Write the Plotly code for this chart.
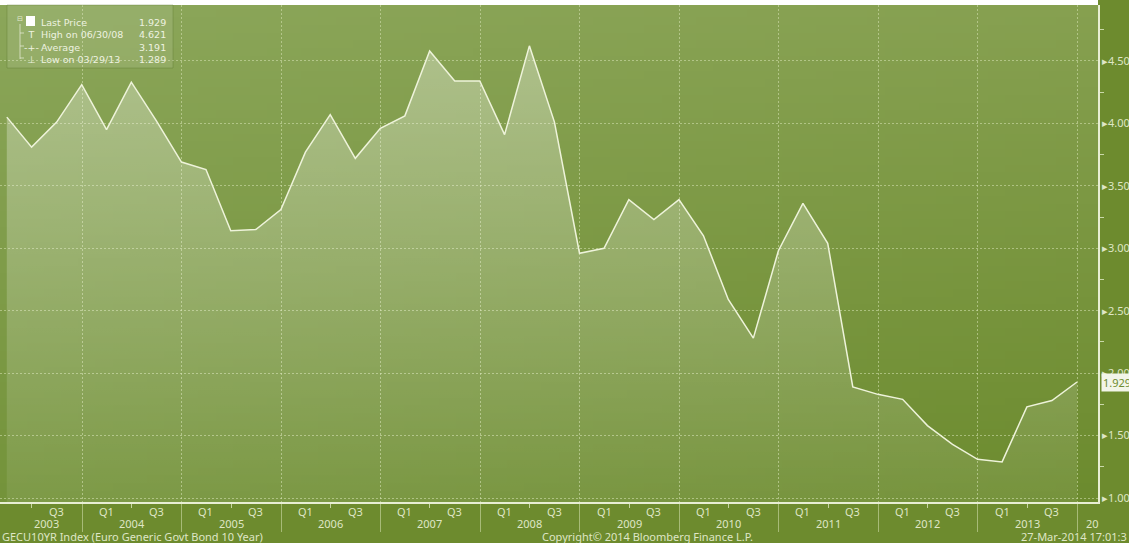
import base64
import struct
import zlib

import plotly.graph_objects as go

# ---------------- data ----------------
quarter_ends = [f"{y}-{md}" for y in range(2003, 2014)
                for md in ("03-31", "06-30", "09-30", "12-31")]
yields = [
    4.05, 3.81, 4.01, 4.31,   # 2003
    3.95, 4.33, 4.02, 3.69,   # 2004
    3.63, 3.14, 3.15, 3.31,   # 2005
    3.77, 4.07, 3.72, 3.96,   # 2006
    4.06, 4.58, 4.34, 4.34,   # 2007
    3.91, 4.621, 4.01, 2.96,  # 2008
    3.00, 3.39, 3.23, 3.39,   # 2009
    3.10, 2.59, 2.28, 2.98,   # 2010
    3.36, 3.04, 1.89, 1.83,   # 2011
    1.79, 1.58, 1.43, 1.31,   # 2012
    1.289, 1.73, 1.78, 1.929,  # 2013
]
y_ticks = [1.0, 1.5, 2.0, 2.5, 3.0, 3.5, 4.0, 4.5]
y_minor = [1.25, 1.75, 2.25, 2.75, 3.25, 3.75, 4.25, 4.75]
label_years = list(range(2003, 2014))
legend_labels = ["Last Price", "High on 06/30/08", "Average", "Low on 03/29/13"]
legend_values = ["1.929", "4.621", "3.191", "1.289"]
legend_symbols = ["\u00a0", "T", "-+-", "⊥"]
last_price = 1.929
footer_left = "GECU10YR Index (Euro Generic Govt Bond 10 Year)"
footer_mid = "Copyright© 2014 Bloomberg Finance L.P."
footer_right = "27-Mar-2014 17:01:3"

# ---------------- style ----------------
FONT = "Noto Sans"
FS = 11
BAND = "#6d8b2e"
TXT = "#dfe6c6"
GRID = "rgba(215,228,180,0.55)"
AXLINE = "#e8eed4"
X_START, X_END = "2003-03-06", "2014-03-18"
Y_RANGE = [0.968, 4.948]
W, H = 1129, 543
ML, MR, MT, MB = 0, 31, 5, 41
PH = H - MT - MB
PW = W - ML - MR


def gradient_png(w, h):
    tl, tr = (0x8b, 0xa6, 0x5a), (0x86, 0xa0, 0x50)
    bl, br = (0x74, 0x93, 0x3a), (0x6c, 0x8b, 0x2e)
    rows = []
    for j in range(h):
        v = j / (h - 1)
        row = bytearray([0])
        for i in range(w):
            u = i / (w - 1)
            px = []
            for k in range(3):
                top = tl[k] * (1 - u) + tr[k] * u
                bot = bl[k] * (1 - u) + br[k] * u
                px.append(int(round(top * (1 - v) + bot * v)))
            row += bytes(px)
        rows.append(bytes(row))
    raw = b"".join(rows)

    def chunk(t, d):
        c = struct.pack(">I", len(d)) + t + d
        return c + struct.pack(">I", zlib.crc32(t + d) & 0xFFFFFFFF)

    png = (b"\x89PNG\r\n\x1a\n"
           + chunk(b"IHDR", struct.pack(">IIBBBBB", w, h, 8, 2, 0, 0, 0))
           + chunk(b"IDAT", zlib.compress(raw))
           + chunk(b"IEND", b""))
    return "data:image/png;base64," + base64.b64encode(png).decode()


fig = go.Figure()
fig.add_trace(go.Scatter(
    x=quarter_ends, y=yields, mode="lines",
    line=dict(color="#eef3da", width=1.5),
    fill="tozeroy",
    fillgradient=dict(type="vertical",
                      colorscale=[[0, "rgba(255,255,255,0.07)"],
                                  [1, "rgba(255,255,255,0.33)"]],
                      start=1.0, stop=4.7),
    hoverinfo="skip", showlegend=False,
))

ann = []


def px_y(ypx):
    # pixel row of page -> paper y
    return (H - MB - ypx) / PH


def px_x(xpx):
    return (xpx - ML) / PW


# x-axis quarter labels
for y in label_years:
    for md, q in (("03-31", "Q1"), ("09-30", "Q3")):
        d = f"{y}-{md}"
        if d < "2003-04-15":
            continue
        ann.append(dict(x=d, xref="x", y=px_y(511), yref="paper", text=q,
                        showarrow=False, xanchor="center", yanchor="middle",
                        font=dict(family=FONT, size=FS, color=TXT)))
# year labels
for y in label_years:
    d = f"{y}-07-01" if y > 2003 else "2003-08-25"
    ann.append(dict(x=d, xref="x", y=px_y(523), yref="paper", text=str(y),
                    showarrow=False, xanchor="center", yanchor="middle",
                    font=dict(family=FONT, size=FS, color=TXT)))
ann.append(dict(x=px_x(1084), xref="paper", y=px_y(523), yref="paper", text="20",
                showarrow=False, xanchor="left", yanchor="middle",
                font=dict(family=FONT, size=FS, color=TXT)))
# footer
for txt, xp, anc in ((footer_left, 0, "left"),
                     (footer_mid, 647, "center"),
                     (footer_right, W, "right")):
    ann.append(dict(x=px_x(xp), xref="paper", y=px_y(536), yref="paper", text=txt,
                    showarrow=False, xanchor=anc, yanchor="middle",
                    font=dict(family=FONT, size=FS, color=TXT)))
# last price tag
ann.append(dict(x=1.0, xref="paper", xshift=3, y=last_price, yref="y",
                text=f"{last_price:.3f}", showarrow=False, xanchor="left",
                yanchor="middle", bgcolor="#f2f5e8", borderpad=1,
                font=dict(family=FONT, size=FS, color="#6d8b2e")))

# legend box contents (multi-line blocks)
LEG = "#eef2e0"
LFONT = dict(family="DejaVu Sans", size=9.5, color=LEG)
ann.append(dict(x=px_x(39), xref="paper", y=px_y(15), yref="paper",
                text="<br>".join(legend_labels), align="left",
                showarrow=False, xanchor="left", yanchor="top", font=LFONT))
ann.append(dict(x=px_x(168), xref="paper", y=px_y(15), yref="paper",
                text="<br>".join(legend_values), align="right",
                showarrow=False, xanchor="right", yanchor="top", font=LFONT))
ann.append(dict(x=px_x(31), xref="paper", y=px_y(15), yref="paper",
                text="<br>".join(legend_symbols), align="center",
                showarrow=False, xanchor="center", yanchor="top",
                font=dict(family="DejaVu Sans", size=9.5, color=LEG)))
ann.append(dict(x=px_x(20), xref="paper", y=px_y(19), yref="paper", text="⊟",
                showarrow=False, xanchor="center", yanchor="middle",
                font=dict(family="DejaVu Sans", size=7, color="#e3e9cf")))

rows_y = [21, 33, 46, 58]
shapes = [
    # white strip above chart
    dict(type="rect", xref="paper", yref="paper", x0=0, x1=1, y0=1, y1=1 + 6 / PH,
         fillcolor="white", line=dict(width=0), layer="above"),
    # legend box
    dict(type="rect", xref="paper", yref="paper",
         x0=px_x(7), x1=px_x(173), y0=px_y(68), y1=px_y(5),
         fillcolor="rgba(255,255,255,0.10)", line=dict(width=1, color="rgba(90,115,40,0.35)"),
         layer="above"),
    # white square marker
    dict(type="rect", xref="paper", yref="paper",
         x0=px_x(26), x1=px_x(35), y0=px_y(26), y1=px_y(16),
         fillcolor="white", line=dict(width=0), layer="above"),
    # tree connector
    dict(type="line", xref="paper", yref="paper",
         x0=px_x(20), x1=px_x(20), y0=px_y(59), y1=px_y(24),
         line=dict(color="rgba(235,240,220,0.7)", width=1), layer="above"),
]
for ry in rows_y[1:]:
    shapes.append(dict(type="line", xref="paper", yref="paper",
                       x0=px_x(20), x1=px_x(24), y0=px_y(ry), y1=px_y(ry),
                       line=dict(color="rgba(235,240,220,0.7)", width=1), layer="above"))

fig.update_layout(
    width=W, height=H,
    margin=dict(l=ML, r=MR, t=MT, b=MB, pad=0),
    paper_bgcolor=BAND, plot_bgcolor="#7e9a44",
    showlegend=False,
    images=[dict(source=gradient_png(64, 64), xref="paper", yref="paper",
                 x=0, y=1, sizex=1, sizey=1, xanchor="left", yanchor="top",
                 sizing="stretch", layer="below")],
    xaxis=dict(
        type="date", range=[X_START, X_END], fixedrange=True,
        tickmode="array", tickvals=[f"{y}-07-01" for y in label_years],
        ticks="outside", ticklen=4, tickcolor="rgba(220,230,190,0.8)",
        showticklabels=False, showgrid=False, zeroline=False,
        showline=True, linecolor=AXLINE, linewidth=1.5,
        minor=dict(tickmode="array", tickvals=[f"{y}-01-01" for y in range(2004, 2015)],
                   ticks="outside", ticklen=28, tickcolor=GRID, tickwidth=1,
                   showgrid=True, gridcolor=GRID, griddash="2px,2px", gridwidth=1),
    ),
    yaxis=dict(
        side="right", range=Y_RANGE, fixedrange=True,
        tickmode="array", tickvals=y_ticks,
        ticktext=["▸" + f"{v:.2f}" for v in y_ticks],
        ticks="", showgrid=True, gridcolor=GRID, griddash="2px,2px", gridwidth=1,
        zeroline=False, showline=True, linecolor=AXLINE, linewidth=1.5,
        tickfont=dict(family=FONT, size=FS, color=TXT),
        minor=dict(tickmode="array", tickvals=y_minor, ticks="outside", ticklen=4,
                   tickcolor="rgba(225,235,200,0.8)", showgrid=False),
    ),
    annotations=ann,
    shapes=shapes,
)

fig.write_html("out.html", config={"displayModeBar": False})
